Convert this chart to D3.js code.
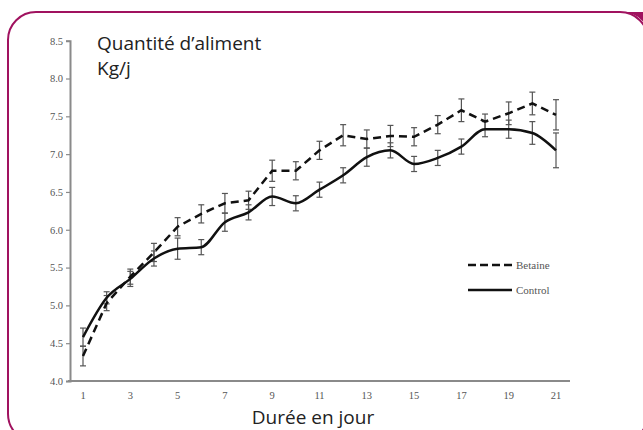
<!DOCTYPE html>
<html>
<head>
<meta charset="utf-8">
<script src="https://cdn.jsdelivr.net/npm/d3@7"></script>
<style>
  body { margin: 0; background: #fff; }
  svg { display: block; }
</style>
</head>
<body>
<svg id="chart"></svg>
<script>
// Data
const days = [1, 2, 3, 4, 5, 6, 7, 8, 9, 10, 11, 12, 13, 14, 15, 16, 17, 18, 19, 20, 21];
const betaine = [4.33, 5.03, 5.38, 5.70, 6.04, 6.21, 6.35, 6.39, 6.78, 6.78, 7.05, 7.25, 7.20, 7.24, 7.23, 7.39, 7.58, 7.43, 7.54, 7.67, 7.52];
const betaineErr = [0.13, 0.10, 0.10, 0.12, 0.12, 0.12, 0.13, 0.12, 0.14, 0.12, 0.12, 0.14, 0.12, 0.14, 0.12, 0.12, 0.15, 0.10, 0.15, 0.15, 0.20];
const control = [4.58, 5.10, 5.35, 5.62, 5.75, 5.77, 6.10, 6.23, 6.44, 6.35, 6.53, 6.72, 6.96, 7.05, 6.87, 6.95, 7.10, 7.33, 7.33, 7.28, 7.05];
const controlErr = [0.12, 0.08, 0.10, 0.10, 0.14, 0.10, 0.12, 0.10, 0.12, 0.10, 0.10, 0.10, 0.12, 0.10, 0.10, 0.10, 0.10, 0.10, 0.12, 0.15, 0.23];
const yTicks = [4.0, 4.5, 5.0, 5.5, 6.0, 6.5, 7.0, 7.5, 8.0, 8.5];
const xTicks = [1, 3, 5, 7, 9, 11, 13, 15, 17, 19, 21];
const seriesNames = ["Betaine", "Control"];

const width = 643, height = 430;
const svg = d3.select("#chart").attr("width", width).attr("height", height);

// Frame (rounded magenta border with filled top-right tab)
const frameColor = "#a0125f";
svg.append("path")
  .attr("d", "M619,12 L648,12 L648,40 Q648,12 619,12 Z")
  .attr("fill", frameColor);
svg.append("rect")
  .attr("x", 8).attr("y", 12)
  .attr("width", 640).attr("height", 430)
  .attr("rx", 28).attr("ry", 28)
  .attr("fill", "none")
  .attr("stroke", frameColor)
  .attr("stroke-width", 2);

// Scales
const x = d3.scaleLinear().domain([1, 21]).range([83, 556]);
const y = d3.scaleLinear().domain([4, 8.5]).range([381, 40.7]);
const x0 = 70;

const axisColor = "#8a8a8a";
const labelColor = "#555";

// Y axis
const yAxis = svg.append("g").attr("transform", `translate(${x0},0)`)
  .call(d3.axisLeft(y).tickValues(yTicks).tickFormat(d3.format(".1f")).tickSize(4).tickPadding(3));
yAxis.select(".domain").attr("stroke", axisColor).attr("stroke-width", 2);
yAxis.selectAll(".tick line").attr("stroke", axisColor).attr("stroke-width", 1.2);
yAxis.selectAll(".tick text")
  .attr("fill", labelColor)
  .style("font-family", "'Liberation Serif', serif")
  .style("font-size", "10.5px");

// X axis
svg.append("line")
  .attr("x1", x0 - 2).attr("x2", 570)
  .attr("y1", 381).attr("y2", 381)
  .attr("stroke", axisColor).attr("stroke-width", 2.2);
svg.append("g").selectAll("text")
  .data(xTicks)
  .join("text")
  .attr("x", d => x(d))
  .attr("y", 399)
  .attr("text-anchor", "middle")
  .attr("fill", labelColor)
  .style("font-family", "'Liberation Serif', serif")
  .style("font-size", "10.5px")
  .text(d => d);

// Error bars
const series = [
  { name: seriesNames[0], values: betaine, err: betaineErr, dash: "8,5" },
  { name: seriesNames[1], values: control, err: controlErr, dash: null }
];

const errColor = "#555";
series.forEach(s => {
  const g = svg.append("g");
  days.forEach((d, i) => {
    const cx = x(d), top = y(s.values[i] + s.err[i]), bot = y(s.values[i] - s.err[i]);
    g.append("line").attr("x1", cx).attr("x2", cx).attr("y1", top).attr("y2", bot)
      .attr("stroke", errColor).attr("stroke-width", 1.2);
    [top, bot].forEach(yy => {
      g.append("line").attr("x1", cx - 3).attr("x2", cx + 3).attr("y1", yy).attr("y2", yy)
        .attr("stroke", errColor).attr("stroke-width", 1.2);
    });
  });
});

// Lines
series.forEach(s => {
  const line = d3.line()
    .x((d, i) => x(days[i]))
    .y(d => y(d))
    .curve(s.dash ? d3.curveLinear : d3.curveMonotoneX);
  svg.append("path")
    .datum(s.values)
    .attr("d", line)
    .attr("fill", "none")
    .attr("stroke", "#111")
    .attr("stroke-width", 2.5)
    .attr("stroke-dasharray", s.dash);
});

// Legend
const legend = svg.append("g");
series.forEach((s, i) => {
  const ly = 265 + i * 25;
  legend.append("line")
    .attr("x1", 468).attr("x2", 512).attr("y1", ly).attr("y2", ly)
    .attr("stroke", "#111").attr("stroke-width", 2.5)
    .attr("stroke-dasharray", s.dash ? "8,4" : null);
  legend.append("text")
    .attr("x", 516).attr("y", ly + 3.5)
    .attr("fill", "#555")
    .style("font-family", "'Liberation Serif', serif")
    .style("font-size", "11px")
    .text(s.name);
});

// Titles
const title = svg.append("text")
  .attr("x", 97).attr("y", 50)
  .attr("fill", "#222")
  .style("font-family", "'Open Sans', sans-serif")
  .style("font-size", "19px");
title.append("tspan").attr("x", 97).text("Quantité d’aliment");
title.append("tspan").attr("x", 97).attr("dy", 25).text("Kg/j");

svg.append("text")
  .attr("x", 313).attr("y", 424)
  .attr("text-anchor", "middle")
  .attr("fill", "#222")
  .style("font-family", "'Open Sans', sans-serif")
  .style("font-size", "19px")
  .text("Durée en jour");
</script>
</body>
</html>
